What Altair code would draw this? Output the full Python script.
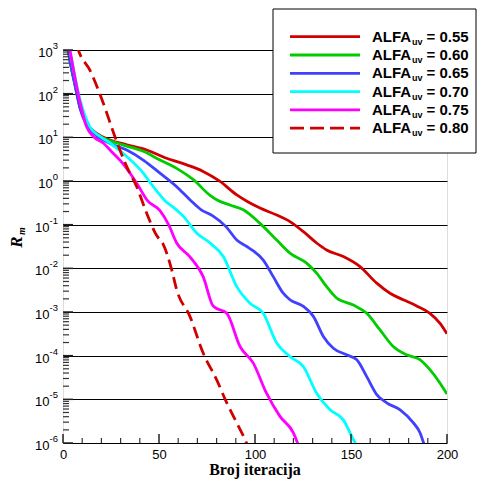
import altair as alt
import pandas as pd

# ---- data (x = iteration, e = log10 of residual) ----
series_names = ["0.55", "0.60", "0.65", "0.70", "0.75", "0.80"]
series_colors = ["#D00000", "#00CC00", "#4040FF", "#00FFFF", "#FF00FF", "#D00000"]

red_x = [2, 2.8, 6.2, 8.9, 12.3, 17.5, 24.5, 33.2, 43.6, 54, 64.4, 73, 81.8, 90.5, 96, 102.6, 111.3, 118.2, 125.2, 132.1, 137.3, 146, 154.7, 163.4, 170.3, 177.2, 184.2, 191.1, 196.4, 200]
red_e = [3.3, 3.0, 2.24, 1.7, 1.32, 1.09, 0.94, 0.83, 0.71, 0.52, 0.37, 0.22, -0.01, -0.32, -0.47, -0.62, -0.78, -0.93, -1.16, -1.42, -1.58, -1.73, -1.96, -2.34, -2.57, -2.72, -2.86, -3.03, -3.26, -3.5]

green_x = [2, 2.8, 6.2, 8.9, 12.3, 17.5, 24.5, 33.2, 41.8, 50.5, 59.2, 67.9, 76.6, 80, 87, 93.9, 102.6, 111.3, 118.2, 126.9, 132.1, 137.3, 142.5, 151.2, 158.2, 165.1, 172, 178.9, 185.9, 191.1, 196.4, 200]
green_e = [3.3, 3.0, 2.22, 1.68, 1.3, 1.07, 0.92, 0.8, 0.68, 0.48, 0.29, 0.03, -0.33, -0.43, -0.55, -0.66, -0.97, -1.35, -1.65, -1.88, -2.11, -2.42, -2.68, -2.84, -3.03, -3.41, -3.79, -3.98, -4.09, -4.32, -4.63, -4.88]

blue_x = [2, 2.8, 6.2, 8.9, 12.3, 17.5, 24.5, 33.2, 41.8, 50.5, 59.2, 66.1, 72, 78, 85, 90.5, 95.7, 99.1, 104.3, 109.5, 114.7, 118.2, 125.2, 130.4, 135.6, 140.8, 147.7, 152.9, 158.2, 163.4, 168.6, 175.6, 182.5, 186, 188.5]
blue_e = [3.3, 3.0, 2.2, 1.66, 1.28, 1.04, 0.86, 0.71, 0.48, 0.18, -0.13, -0.43, -0.66, -0.8, -1.05, -1.35, -1.5, -1.6, -1.81, -2.19, -2.57, -2.72, -2.87, -3.1, -3.56, -3.83, -3.98, -4.09, -4.48, -4.89, -5.08, -5.24, -5.54, -5.77, -6.1]

cyan_x = [2, 3.6, 8.9, 14, 19.3, 24.5, 33.2, 41.8, 47, 53.1, 58, 62.7, 69.6, 76.6, 83.5, 90.5, 97.4, 104.3, 111.3, 118.2, 125.2, 132.1, 139.1, 146, 151.2, 153.5]
cyan_e = [3.4, 3.0, 1.86, 1.24, 1.02, 0.87, 0.56, 0.18, -0.13, -0.45, -0.62, -0.81, -1.19, -1.42, -1.73, -2.42, -2.8, -3.03, -3.71, -4.02, -4.25, -4.86, -5.24, -5.47, -5.92, -6.1]

magenta_x = [2, 3.6, 8.9, 12.3, 15.8, 20.9, 26, 31, 38.4, 44, 50.5, 55, 59.2, 66, 73, 78.3, 85.3, 92.2, 99.1, 106, 113, 120, 123]
magenta_e = [3.4, 3.0, 1.79, 1.24, 1.02, 0.87, 0.64, 0.41, -0.05, -0.45, -0.68, -1.0, -1.42, -1.73, -2.19, -2.87, -3.03, -3.79, -4.17, -4.86, -5.39, -5.77, -6.1]

dashed_x = [5, 8, 14, 21, 27, 33.2, 38.4, 43.6, 48.8, 52.2, 56.6, 59.2, 66.1, 73, 80, 85.3, 90.5, 94.8, 96.5]
dashed_e = [3.5, 3.0, 2.54, 1.78, 1.02, 0.33, -0.13, -0.74, -1.25, -1.45, -2.03, -2.49, -3.1, -3.94, -4.55, -5.08, -5.54, -5.92, -6.1]

x_ticks = [0, 50, 100, 150, 200]
x_minor = [10, 20, 30, 40, 60, 70, 80, 90, 110, 120, 130, 140, 160, 170, 180, 190]
decades = [-6, -5, -4, -3, -2, -1, 0, 1, 2, 3]

W, H = 384, 393
FONT = "Liberation Sans"
SERIF = "Liberation Serif"

rows = []
for name, xs, es in zip(series_names[:5], [red_x, green_x, blue_x, cyan_x, magenta_x],
                        [red_e, green_e, blue_e, cyan_e, magenta_e]):
    for xv, ev in zip(xs, es):
        rows.append({"s": name, "x": xv, "y": 10 ** ev})
solid_df = pd.DataFrame(rows)
dash_df = pd.DataFrame({"x": dashed_x, "y": [10 ** e for e in dashed_e]})

xscale = alt.Scale(domain=[0, 200], nice=False, zero=False)
yscale = alt.Scale(type="log", domain=[1e-6, 1e3], nice=False)

solid = alt.Chart(solid_df).mark_line(clip=True, strokeWidth=2.8, interpolate="monotone").encode(
    x=alt.X("x:Q", scale=xscale,
            axis=alt.Axis(values=x_ticks, ticks=False, domain=False, grid=False, title=None,
                          labelFontSize=13, labelFont=FONT, labelColor="black",
                          labelPadding=5, labelFlush=False)),
    y=alt.Y("y:Q", scale=yscale,
            axis=alt.Axis(values=[10.0 ** d for d in decades], labels=False, ticks=False,
                          domain=False, grid=True, gridColor="black", gridWidth=1,
                          gridOpacity=1, title=None)),
    color=alt.Color("s:N", scale=alt.Scale(domain=series_names[:5], range=series_colors[:5]),
                    legend=None),
    detail="s:N",
)

dashed = alt.Chart(dash_df).mark_line(clip=True, strokeWidth=2.8, interpolate="monotone",
                                      strokeDash=[12, 6], color=series_colors[5]).encode(
    x=alt.X("x:Q", scale=xscale),
    y=alt.Y("y:Q", scale=yscale),
)

# inside ticks
ymin_vals = [k * 10.0 ** d for d in decades[:-1] for k in range(2, 10)]
ymin = alt.Chart(pd.DataFrame({"y": ymin_vals})).mark_rule(color="#333333", strokeWidth=1.2).encode(
    y=alt.Y("y:Q", scale=yscale), x=alt.value(0), x2=alt.value(6))
ymaj = alt.Chart(pd.DataFrame({"y": [10.0 ** d for d in decades]})).mark_rule(color="#222222", strokeWidth=1.5).encode(
    y=alt.Y("y:Q", scale=yscale), x=alt.value(0), x2=alt.value(10))
xmin = alt.Chart(pd.DataFrame({"x": x_minor})).mark_rule(color="#333333", strokeWidth=1.2).encode(
    x=alt.X("x:Q", scale=xscale), y=alt.value(H), y2=alt.value(H - 5))
xmaj = alt.Chart(pd.DataFrame({"x": x_ticks})).mark_rule(color="#222222", strokeWidth=1.5).encode(
    x=alt.X("x:Q", scale=xscale), y=alt.value(H), y2=alt.value(H - 9))

# y labels: 10 with superscript exponent
lab = pd.DataFrame({"d": decades})
lab["y"] = 10.0 ** lab["d"]
lab["exp"] = lab["d"].astype(str)
lab["w"] = lab["exp"].apply(lambda s: 5.3 * sum(c.isdigit() for c in s) + 3.2 * ("-" in s))
ten_layers = []
for _, r in lab.iterrows():
    ten_layers.append(
        alt.Chart(pd.DataFrame({"y": [r["y"]]})).mark_text(
            align="right", baseline="middle", fontSize=13, font=FONT, color="black", dy=3,
            text="10").encode(y=alt.Y("y:Q", scale=yscale), x=alt.value(-5 - r["w"])))
expo = alt.Chart(lab).mark_text(align="right", baseline="middle", fontSize=9.5, font=FONT,
                                color="black", dy=-4).encode(
    y=alt.Y("y:Q", scale=yscale), x=alt.value(-5), text="exp:N")

one = pd.DataFrame({"a": [0]})


def txt(t, x, y, **kw):
    return alt.Chart(one).mark_text(text=t, **kw).encode(x=alt.value(x), y=alt.value(y))


xtitle = txt("Broj iteracija", W / 2, H + 32, align="center", baseline="alphabetic",
             font=SERIF, fontSize=16, fontWeight="bold", color="black")
ytitle_r = txt("R", -46, 192, align="center", baseline="middle", angle=270, font=SERIF,
               fontSize=17, fontWeight="bold", fontStyle="italic", color="black")
ytitle_m = txt("m", -41, 181, align="center", baseline="middle", angle=270, font=SERIF,
               fontSize=10, fontWeight="bold", fontStyle="italic", color="black")

# legend
legend_layers = [
    alt.Chart(one).mark_rect(fill="white", stroke="black", strokeWidth=1).encode(
        x=alt.value(210), x2=alt.value(413), y=alt.value(-41), y2=alt.value(103))
]
for i, (name, col) in enumerate(zip(series_names, series_colors)):
    ly = -13.3 + 18.3 * i
    kw = {"strokeDash": [14, 6]} if i == 5 else {}
    legend_layers.append(
        alt.Chart(one).mark_rule(color=col, strokeWidth=2.8, **kw).encode(
            x=alt.value(227), x2=alt.value(297), y=alt.value(ly)))
    legend_layers.append(txt("ALFA", 309, ly, align="left", baseline="middle", font=FONT,
                             fontSize=15, fontWeight="bold", color="black"))
    legend_layers.append(txt("uv", 349, ly + 5, align="left", baseline="middle", font=FONT,
                             fontSize=9, fontWeight="bold", color="black"))
    legend_layers.append(txt("= " + name, 363.5, ly, align="left", baseline="middle", font=FONT,
                             fontSize=15, fontWeight="bold", color="black"))

chart = alt.layer(
    solid, dashed, ymin, ymaj, xmin, xmaj, *ten_layers, expo, xtitle, ytitle_r, ytitle_m,
    *legend_layers
).properties(
    width=W, height=H,
    padding={"left": 55, "top": 42, "right": 30, "bottom": 36},
    autosize=alt.AutoSizeParams(type="none"),
).configure_view(stroke="black", strokeWidth=2.5).configure(background="white")

chart.save("out.html", embed_options={"renderer": "svg", "actions": False})
